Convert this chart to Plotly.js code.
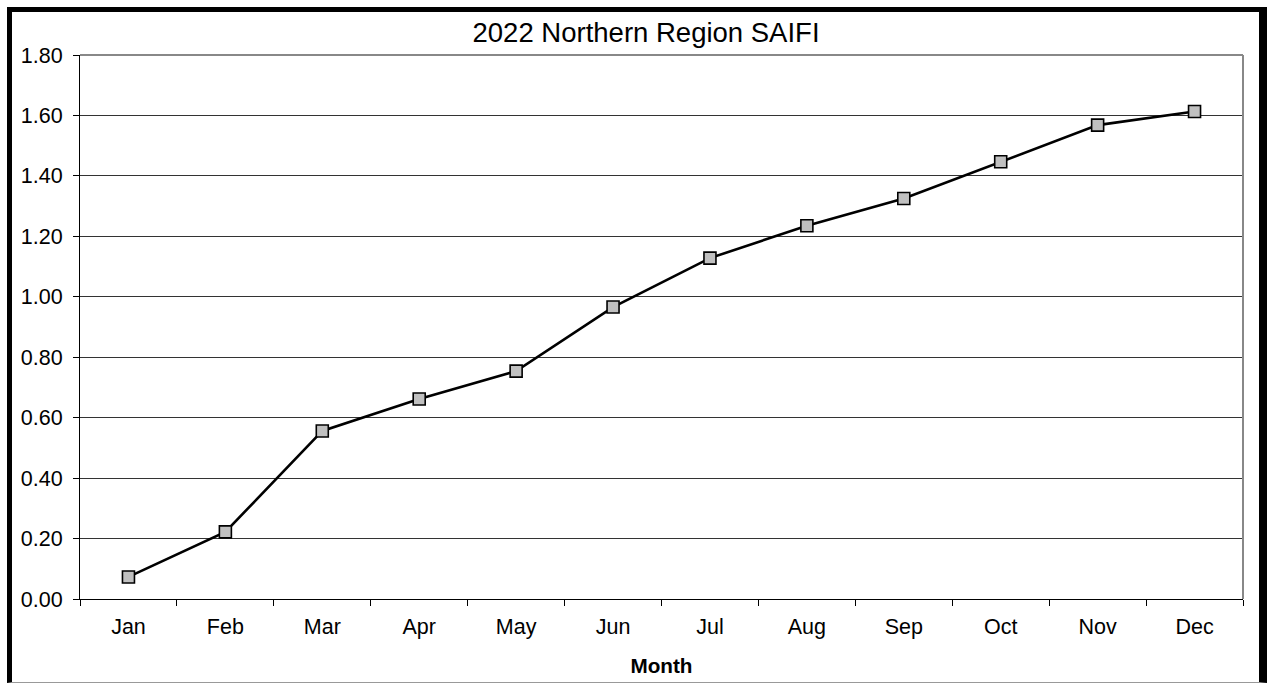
<!DOCTYPE html>
<html>
<head>
<meta charset="utf-8">
<script src="https://cdn.plot.ly/plotly-3.0.1.min.js"></script>
<style>
  html, body { margin: 0; padding: 0; background: #fff; }
  #wrap { position: relative; width: 1268px; height: 683px; overflow: hidden; }
  #chart { position: absolute; left: 0; top: 0; width: 1268px; height: 683px; }
  #frame { position: absolute; left: 7px; top: 7px; width: 1260px; height: 676px; box-sizing: border-box;
           border-left: 5px solid #000; border-top: 5px solid #000; border-right: 8px solid #000;
           border-bottom: 1px solid #999; pointer-events: none; z-index: 10; }
</style>
</head>
<body>
<div id="wrap">
  <div id="chart"></div>
  <div id="frame"></div>
</div>
<script>
const months = ["Jan","Feb","Mar","Apr","May","Jun","Jul","Aug","Sep","Oct","Nov","Dec"];
const saifi = [0.073, 0.222, 0.556, 0.662, 0.754, 0.966, 1.128, 1.235, 1.325, 1.447, 1.568, 1.613];
const yTicks = [0, 0.2, 0.4, 0.6, 0.8, 1.0, 1.2, 1.4, 1.6, 1.8];

const font = "Liberation Sans, Arial, sans-serif";

const trace = {
  x: months,
  y: saifi,
  type: "scatter",
  mode: "lines+markers",
  line: { color: "#000", width: 2.6 },
  marker: { symbol: "square", size: 12, color: "#C0C0C0", line: { color: "#000", width: 1.6 } },
  hoverinfo: "x+y"
};

const layout = {
  width: 1268, height: 683,
  margin: { l: 80, r: 25, t: 55, b: 84 },
  paper_bgcolor: "rgba(0,0,0,0)",
  plot_bgcolor: "#fff",
  showlegend: false,
  title: { text: "2022 Northern Region SAIFI", font: { family: font, size: 27.5, color: "#000" },
           x: 0.5095, xanchor: "center", y: 0.953, yanchor: "middle" },
  xaxis: {
    type: "category",
    tickson: "boundaries",
    ticks: "outside", ticklen: 6, tickcolor: "#000", tickwidth: 1,
    showline: true, linecolor: "#000", linewidth: 1,
    showgrid: false, zeroline: false,
    tickfont: { family: font, size: 21.5, color: "#000" },
    ticklabelstandoff: 8,
    title: { text: "<b>Month</b>", font: { family: font, size: 20.7, color: "#000" }, standoff: 20 },
    range: [-0.5, 11.5]
  },
  yaxis: {
    range: [0, 1.8],
    tickvals: yTicks,
    tickformat: ".2f",
    ticks: "outside", ticklen: 6, tickcolor: "#000", tickwidth: 1,
    showline: true, linecolor: "#000", linewidth: 1,
    showgrid: true, gridcolor: "#333", gridwidth: 1,
    zeroline: false,
    ticklabelstandoff: 6,
    tickfont: { family: font, size: 21.5, color: "#000" }
  },
  shapes: [
    { type: "line", xref: "paper", yref: "paper", x0: 1, x1: 1, y0: 0, y1: 1,
      line: { color: "#888", width: 2 } },
    { type: "line", xref: "paper", yref: "paper", x0: 0, x1: 1, y0: 1, y1: 1,
      line: { color: "#888", width: 2 } }
  ]
};

Plotly.newPlot("chart", [trace], layout, { displayModeBar: false, staticPlot: true });
</script>
</body>
</html>
